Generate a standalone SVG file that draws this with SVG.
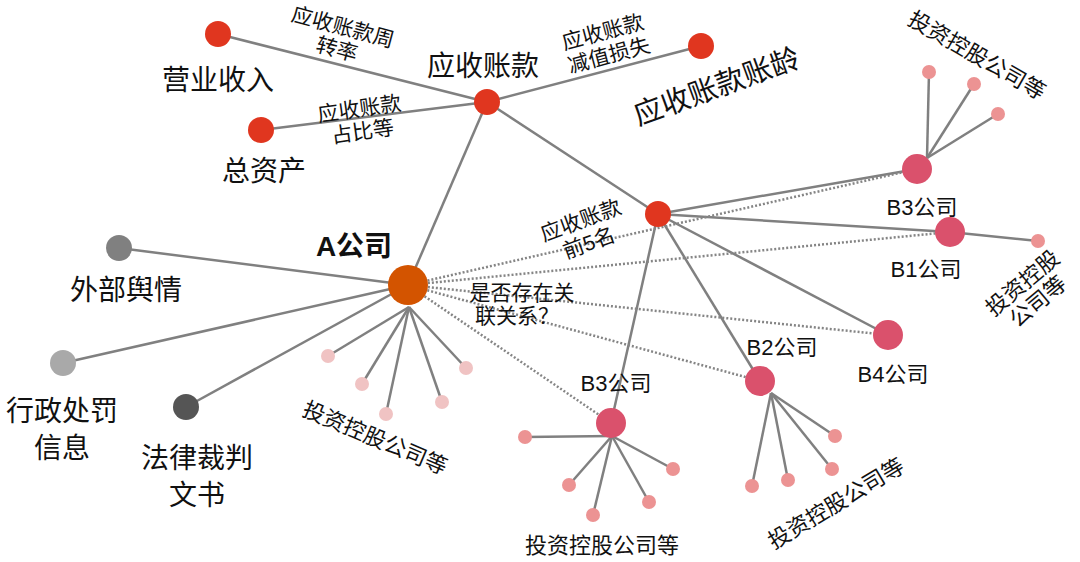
<svg xmlns="http://www.w3.org/2000/svg" width="1080" height="562" viewBox="0 0 1080 562">
<style>
text{font-family:"Liberation Sans","Noto Sans CJK SC",sans-serif;fill:#111;text-anchor:middle}
.big{font-size:28px}
.mid{font-size:22px}
.sm{font-size:21px}
.e{stroke:#808080;stroke-width:2.5;fill:none}
.d{stroke:#858585;stroke-width:2.5;fill:none;stroke-dasharray:2 2}
.red{fill:#e0361f}
.b{fill:#da516c}
.bc{fill:#ec9393}
.ac{fill:#f0c3c3}
</style>
<rect width="1080" height="562" fill="#fff"/>
<g id="connectors">
<line class="e" x1="218" y1="34" x2="487" y2="102"/>
<line class="e" x1="261" y1="130" x2="487" y2="102"/>
<line class="e" x1="487" y1="102" x2="701" y2="46"/>
<line class="e" x1="487" y1="102" x2="658" y2="214"/>
<line class="e" x1="487" y1="102" x2="408" y2="285"/>
<line class="e" x1="119" y1="248" x2="408" y2="285"/>
<line class="e" x1="63" y1="363" x2="408" y2="285"/>
<line class="e" x1="186" y1="407" x2="408" y2="285"/>
<line class="e" x1="409" y1="307" x2="328" y2="356"/>
<line class="e" x1="409" y1="307" x2="362" y2="384"/>
<line class="e" x1="409" y1="307" x2="386" y2="414"/>
<line class="e" x1="409" y1="307" x2="442" y2="402"/>
<line class="e" x1="409" y1="307" x2="466" y2="368"/>
<line class="e" x1="658" y1="214" x2="917" y2="169"/>
<line class="e" x1="658" y1="214" x2="950" y2="232"/>
<line class="e" x1="658" y1="214" x2="888" y2="335"/>
<line class="e" x1="658" y1="214" x2="760" y2="381"/>
<line class="e" x1="658" y1="214" x2="611" y2="423"/>
<line class="d" x1="408" y1="285" x2="917" y2="169"/>
<line class="d" x1="408" y1="285" x2="950" y2="232"/>
<line class="d" x1="408" y1="285" x2="888" y2="335"/>
<line class="d" x1="408" y1="285" x2="760" y2="381"/>
<line class="d" x1="408" y1="285" x2="611" y2="423"/>
<line class="e" x1="927" y1="158" x2="929" y2="72"/>
<line class="e" x1="927" y1="158" x2="974" y2="84"/>
<line class="e" x1="927" y1="158" x2="998" y2="114"/>
<line class="e" x1="950" y1="232" x2="1038" y2="241"/>
<line class="e" x1="612" y1="436" x2="525" y2="437"/>
<line class="e" x1="612" y1="436" x2="569" y2="485"/>
<line class="e" x1="612" y1="436" x2="593" y2="515"/>
<line class="e" x1="612" y1="436" x2="649" y2="502"/>
<line class="e" x1="612" y1="436" x2="673" y2="469"/>
<line class="e" x1="771" y1="393" x2="752" y2="486"/>
<line class="e" x1="771" y1="393" x2="788" y2="480"/>
<line class="e" x1="771" y1="393" x2="832" y2="469"/>
<line class="e" x1="771" y1="393" x2="835" y2="436"/>
</g>
<g id="edge-labels">
<g transform="translate(340 38) rotate(15)"><text class="sm" y="-4">应收账款周</text><text class="sm" y="19">转率</text></g>
<g transform="translate(361 120) rotate(-8)"><text class="sm" y="-4">应收账款</text><text class="sm" y="19">占比等</text></g>
<g transform="translate(606 44) rotate(-15)"><text class="sm" y="-5">应收账款</text><text class="sm" y="19">减值损失</text></g>
<g transform="translate(585 232) rotate(-20)"><text class="sm" y="-5">应收账款</text><text class="sm" y="19">前5名</text></g>
<text class="sm" x="522" y="300">是否存在关</text>
<text class="sm" x="517" y="323">联关系？</text>
</g>
<g id="n-yingye"><circle class="red" cx="218" cy="34" r="13"/><text class="big" x="218" y="90">营业收入</text></g>
<g id="n-zongzichan"><circle class="red" cx="261" cy="130" r="13"/><text class="big" x="264" y="181">总资产</text></g>
<g id="n-yingshou"><circle class="red" cx="487" cy="102" r="13"/><text class="big" x="483" y="76">应收账款</text></g>
<g id="n-zhangling"><circle class="red" cx="701" cy="46" r="13"/><text class="big" font-size="29" style="font-size:29px" transform="translate(720 96) rotate(-20)">应收账款账龄</text></g>
<g id="n-top5"><circle class="red" cx="658" cy="214" r="13"/></g>
<g id="n-A"><circle cx="408" cy="285" r="20" fill="#d35400"/><text class="big" x="354" y="256" font-weight="bold">A公司</text></g>
<g id="n-yuqing"><circle cx="119" cy="248" r="13" fill="#808080"/><text class="big" x="126" y="300">外部舆情</text></g>
<g id="n-xingzheng"><circle cx="63" cy="363" r="13" fill="#a9a9a9"/><text class="big" x="62" y="421">行政处罚</text><text class="big" x="62" y="458">信息</text></g>
<g id="n-falv"><circle cx="186" cy="407" r="13" fill="#555"/><text class="big" x="197" y="468">法律裁判</text><text class="big" x="197" y="505">文书</text></g>
<g id="n-A-children">
<circle class="ac" cx="328" cy="356" r="7"/><circle class="ac" cx="362" cy="384" r="7"/><circle class="ac" cx="386" cy="414" r="7"/><circle class="ac" cx="442" cy="402" r="7"/><circle class="ac" cx="466" cy="368" r="7"/>
<text class="mid" transform="translate(372 445) rotate(23)">投资控股公司等</text>
</g>
<g id="n-B3-upper"><circle class="b" cx="917" cy="169" r="15"/><text class="mid" x="922" y="215">B3公司</text>
<circle class="bc" cx="929" cy="72" r="7"/><circle class="bc" cx="974" cy="84" r="7"/><circle class="bc" cx="998" cy="114" r="7"/>
<text class="mid" transform="translate(973 62) rotate(30)">投资控股公司等</text></g>
<g id="n-B1"><circle class="b" cx="950" cy="232" r="15"/><text class="mid" x="926" y="277">B1公司</text>
<circle class="bc" cx="1038" cy="241" r="7"/>
<g transform="translate(1030 292) rotate(-40)"><text class="mid" y="-4">投资控股</text><text class="mid" y="20">公司等</text></g></g>
<g id="n-B4"><circle class="b" cx="888" cy="335" r="15"/><text class="mid" x="893" y="382">B4公司</text></g>
<g id="n-B2"><circle class="b" cx="760" cy="381" r="15"/><text class="mid" x="782" y="355">B2公司</text>
<circle class="bc" cx="752" cy="486" r="7"/><circle class="bc" cx="788" cy="480" r="7"/><circle class="bc" cx="832" cy="469" r="7"/><circle class="bc" cx="835" cy="436" r="7"/>
<text class="mid" transform="translate(840 510) rotate(-31)">投资控股公司等</text></g>
<g id="n-B3-lower"><circle class="b" cx="611" cy="423" r="15"/><text class="mid" x="616" y="391">B3公司</text>
<circle class="bc" cx="525" cy="437" r="7"/><circle class="bc" cx="569" cy="485" r="7"/><circle class="bc" cx="593" cy="515" r="7"/><circle class="bc" cx="649" cy="502" r="7"/><circle class="bc" cx="673" cy="469" r="7"/>
<text class="mid" x="602" y="553">投资控股公司等</text></g>
</svg>
